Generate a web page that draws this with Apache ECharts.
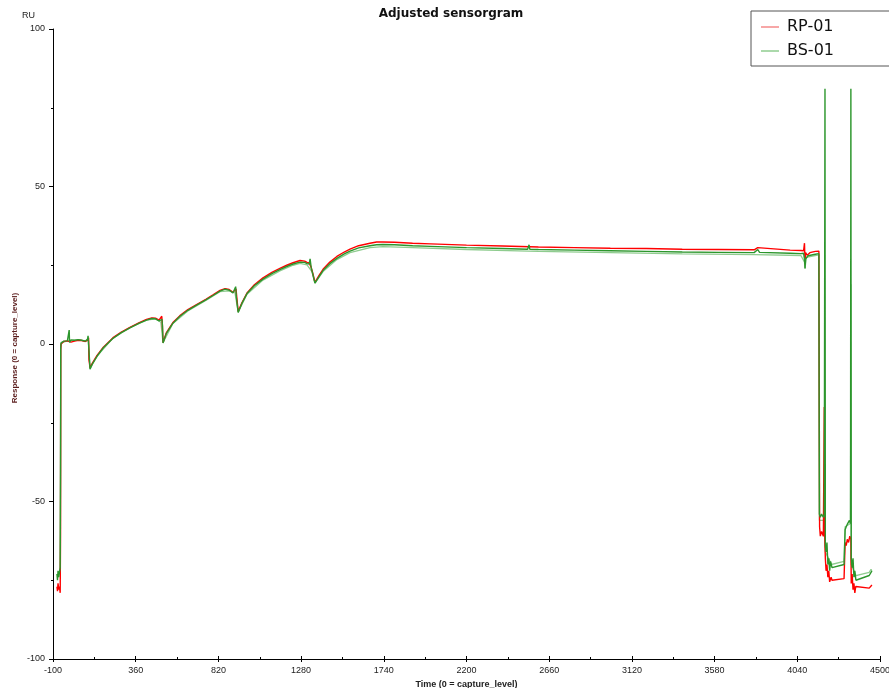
<!DOCTYPE html>
<html>
<head>
<meta charset="utf-8">
<script src="https://cdn.jsdelivr.net/npm/echarts@6/dist/echarts.min.js"></script>
<style>html,body{margin:0;padding:0;background:#fff}#c{width:889px;height:688px}</style>
</head>
<body>
<div id="c"></div>
<script>
const titleText = 'Adjusted sensorgram';
const xName = 'Time (0 = capture_level)';
const yName = 'Response (0 = capture_level)';
const yUnit = 'RU';
const seriesNames = ['RP-01', 'BS-01'];
const xTicks = [-100, 360, 820, 1280, 1740, 2200, 2660, 3120, 3580, 4040, 4500];
const xMinorTicks = [130, 590, 1050, 1510, 1970, 2430, 2890, 3350, 3810, 4270];

const rp01 = [
  [-78,-77],[-75,-78.5],[-72,-76],[-68,-78],[-64,-77],[-60,-79],[-58,-60],[-57,-2],[-55,0],[-50,0.5],
  [-40,0.8],[-20,1],[0,0.6],[20,0.9],[40,1.2],[60,1.1],[80,0.8],[95,1.2],[98,2],[100,-5],[106,-7.5],
  [120,-6],[145,-3.6],[180,-1],[234,2],[280,3.8],[328,5.3],[380,6.8],[420,7.8],[450,8.3],[470,8.2],
  [490,7.6],[500,7.2],[505,8.8],[508,6.5],[512,0.5],[530,3.5],[567,6.8],[606,9],[650,10.9],[701,12.6],
  [750,14.2],[790,15.6],[829,17],[857,17.6],[880,17.3],[901,16.4],[912,16.8],[918,17.5],[922,15],
  [930,10.3],[950,13],[979,16.2],[1020,18.8],[1068,21],[1120,22.8],[1162,24],[1200,25],[1235,25.8],
  [1274,26.5],[1300,26.3],[1313,25.9],[1325,25.7],[1335,24.5],[1345,22.5],[1357,19.6],[1380,21.8],
  [1402,23.7],[1440,26],[1479,27.8],[1520,29.2],[1552,30.1],[1600,31.2],[1663,32],[1700,32.4],
  [1735,32.4],[1800,32.3],[1900,32.0],[2000,31.8],[2200,31.4],[2400,31.1],[2600,30.8],[2800,30.6],
  [3000,30.4],[3200,30.3],[3400,30.1],[3600,30],[3800,29.9],[3820,30.6],[3830,30],[4000,29.8],
  [4060,29.7],[4075,29.6],[4080,32],[4083,25.5],[4086,29],[4095,28.2],[4110,29],[4140,29.4],[4160,29.5],
  [4164,-58],[4168,-61],[4175,-59.5],[4185,-61],[4190,-20],[4192,-60],[4196,-68],[4200,-72],[4205,-70],[4210,-74],
  [4215,-72],[4220,-75.5],[4228,-74],[4233,-75],[4300,-74.5],[4305,-74],[4306,-63],[4312,-64],[4318,-62],
  [4325,-63],[4332,-61],[4338,-62],[4340,-76],[4345,-73],[4350,-78],[4355,-76],[4360,-79],[4365,-77],
  [4372,-77.5],[4440,-77.5],[4450,-77],[4455,-76.5]
];

const bs01 = [
  [-78,-73],[-75,-75],[-72,-72],[-68,-74],[-63,-72],[-60,-71],[-58,-40],[-57,-1],[-55,0.3],[-40,0.9],
  [-20,1],[-12,1.2],[-10,4.4],[-8,0.5],[0,1.3],[20,1.2],[40,1.4],[60,1.2],[80,0.9],[92,1.5],[95,2.6],
  [97,1],[106,-8],[120,-6.2],[145,-3.9],[180,-1.2],[234,1.8],[280,3.6],[328,5.1],[380,6.6],[420,7.6],
  [450,8.1],[470,8],[490,7.3],[500,6.8],[506,7.8],[509,5.8],[512,0.3],[530,3.3],[567,6.6],[606,8.8],
  [650,10.7],[701,12.4],[750,14],[790,15.4],[829,16.8],[857,17.4],[880,17.1],[901,16.2],[912,16.5],
  [916,18.2],[920,14.8],[930,10],[950,12.8],[979,16],[1020,18.5],[1068,20.6],[1120,22.4],[1162,23.6],
  [1200,24.6],[1235,25.4],[1274,26],[1300,25.9],[1313,25.5],[1325,25.4],[1330,27],[1336,24.3],
  [1345,22.2],[1357,19.3],[1380,21.4],[1402,23.3],[1440,25.5],[1479,27.2],[1520,28.6],[1552,29.5],
  [1600,30.5],[1663,31.2],[1700,31.5],[1735,31.6],[1800,31.5],[1900,31.2],[2000,31.0],[2200,30.6],
  [2400,30.3],[2540,30.1],[2548,31.5],[2552,30.1],[2600,30],[2800,29.8],[3000,29.6],[3200,29.4],
  [3400,29.2],[3600,29.1],[3800,29],[3820,30],[3830,29.1],[4000,28.8],[4060,28.7],[4075,28.8],
  [4080,27],[4083,24],[4086,27],[4092,26.5],[4100,28],[4140,28.5],[4160,28.7],
  [4163,-54],[4168,-55],[4175,-54],[4185,-55],[4190,-54],[4194,81],[4196,-64],[4200,-66],[4205,-63],
  [4210,-70],[4215,-68],[4220,-72],[4225,-69],[4233,-71],[4300,-70],[4305,-69.5],[4306,-59],[4312,-58],
  [4320,-57],[4330,-56],[4336,-57],[4338,81],[4340,-68],[4345,-71],[4350,-68],[4355,-74],[4360,-72],
  [4366,-75],[4372,-74.5],[4440,-73.5],[4450,-73],[4455,-72]
];

const bs01Repeat = [
  [-75,-74],[-60,-72],[-58,-30],[-57,-1],[-55,0.5],[-20,0.9],[0,1.1],[40,1.3],[80,0.9],[95,1.8],
  [106,-7.8],[145,-3.8],[234,1.9],[328,5.2],[420,7.6],[470,8.0],[500,6.9],[512,0.4],[567,6.5],
  [650,10.5],[750,13.8],[829,16.6],[880,16.9],[912,16.3],[930,10.1],[979,15.8],[1068,20.3],
  [1162,23.2],[1235,25],[1274,25.6],[1313,25.1],[1340,23],[1357,19.3],[1402,23],[1479,26.8],
  [1552,29],[1663,30.6],[1735,30.9],[1900,30.6],[2200,30],[2540,29.5],[2600,29.4],[3000,29],
  [3400,28.6],[3800,28.4],[4060,28.1],[4080,26],[4083,24],[4090,27.5],[4160,28.3],[4163,-56],
  [4190,-56],[4196,-66],[4230,-70],[4300,-69],[4305,-68.5],[4306,-58],[4336,-57],[4338,19],
  [4340,-70],[4366,-73.5],[4440,-72.5],[4450,-71.5],[4455,-72]
];

const chart = echarts.init(document.getElementById('c'), null, {renderer: 'canvas'});
const labelFont = {fontFamily: 'Liberation Sans', fontSize: 9, color: '#222'};
const plain = v => String(v);
const baseX = {
  type: 'value', min: -100, max: 4500, position: 'bottom',
  splitLine: {show: false}
};
chart.setOption({
  animation: false,
  backgroundColor: '#fff',
  grid: {left: 53, right: 9, top: 29, bottom: 29, containLabel: false, outerBoundsMode: 'none'},
  graphic: [
    {type: 'text', style: {text: titleText, x: 451, y: 14, textAlign: 'center', textVerticalAlign: 'middle', font: 'bold 12px "DejaVu Sans"', fill: '#111'}},
    {type: 'text', style: {text: yUnit, x: 22, y: 16, textVerticalAlign: 'middle', font: '9px "Liberation Sans"', fill: '#222'}},
    {type: 'text', x: 15, y: 348, rotation: Math.PI / 2, style: {text: yName, x: 0, y: 0, textAlign: 'center', textVerticalAlign: 'middle', font: 'bold 8px "Liberation Sans"', fill: '#5a1c1c'}}
  ],
  legend: {
    orient: 'vertical', left: 751, top: 11,
    padding: [8, 80, 7, 10],
    itemWidth: 18, itemHeight: 16, itemGap: 8,
    borderColor: '#555', borderWidth: 1, backgroundColor: '#fff',
    textStyle: {fontFamily: 'DejaVu Sans', fontSize: 16, color: '#111', lineHeight: 16, padding: [0, 0, 0, 3]},
    data: [
      {name: seriesNames[0], icon: 'path://M0,7 L18,7 L18,8.5 L0,8.5 Z', itemStyle: {color: '#f48a8a'}},
      {name: seriesNames[1], icon: 'path://M0,7 L18,7 L18,8.5 L0,8.5 Z', itemStyle: {color: '#8fcc8f'}}
    ]
  },
  xAxis: [
    Object.assign({}, baseX, {
      name: xName, nameLocation: 'middle', nameGap: 19,
      nameTextStyle: {fontFamily: 'Liberation Sans', fontSize: 9, fontWeight: 'bold', color: '#222'},
      axisLine: {show: true, onZero: false, lineStyle: {color: '#000', width: 1}},
      axisTick: {show: true, inside: false, length: 3, customValues: xTicks, lineStyle: {color: '#000'}},
      axisLabel: Object.assign({show: true, margin: 7, customValues: xTicks, formatter: plain}, labelFont)
    }),
    Object.assign({}, baseX, {
      axisLine: {show: false, onZero: false},
      axisTick: {show: true, inside: true, length: 3, customValues: xTicks, lineStyle: {color: '#000'}},
      axisLabel: {show: false}
    }),
    Object.assign({}, baseX, {
      axisLine: {show: false, onZero: false},
      axisTick: {show: true, inside: true, length: 2, customValues: xMinorTicks, lineStyle: {color: '#000'}},
      axisLabel: {show: false}
    })
  ],
  yAxis: {
    type: 'value', min: -100, max: 100, interval: 50,
    axisLine: {show: true, onZero: false, lineStyle: {color: '#000', width: 1}},
    axisTick: {show: true, inside: false, length: 4, lineStyle: {color: '#000'}},
    minorTick: {show: true, splitNumber: 2, length: 2, lineStyle: {color: '#000'}},
    splitLine: {show: false},
    axisLabel: Object.assign({margin: 8, formatter: plain}, labelFont)
  },
  series: [
    {name: seriesNames[1] + ' (2)', type: 'line', xAxisIndex: 0, data: bs01Repeat, symbol: 'none', lineStyle: {color: '#8fcc8f', width: 1.3}, itemStyle: {color: '#8fcc8f'}},
    {name: seriesNames[0], type: 'line', xAxisIndex: 0, data: rp01, symbol: 'none', lineStyle: {color: '#ff0000', width: 1.4}, itemStyle: {color: '#ff0000'}},
    {name: seriesNames[1], type: 'line', xAxisIndex: 0, data: bs01, symbol: 'none', lineStyle: {color: '#2c962c', width: 1.4}, itemStyle: {color: '#2c962c'}}
  ]
});
</script>
</body>
</html>
